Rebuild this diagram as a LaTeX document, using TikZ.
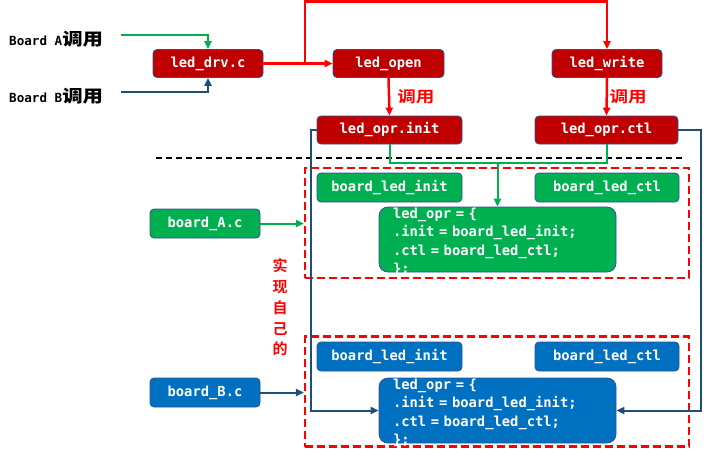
\documentclass[tikz,border=0pt]{standalone}
\usepackage{fontspec}
\setmonofont{DejaVu Sans Mono}
\newfontfamily\cjk{Noto Sans CJK SC Bold}
\newcommand{\widecjk}[1]{\scalebox{1.2}[1]{\cjk #1}}
\usetikzlibrary{arrows.meta}

\definecolor{drvred}{HTML}{C00000}
\definecolor{brdgreen}{HTML}{00B050}
\definecolor{brdblue}{HTML}{0070C0}
\definecolor{edgeblue}{HTML}{2F528F}
\definecolor{wireblue}{HTML}{1F4E79}
\definecolor{wirered}{HTML}{FF0000}

\tikzset{
  fnbox/.style={draw=edgeblue, line width=0.8pt, rounded corners=4pt, text=white,
    inner sep=0pt, minimum height=28pt,
    font=\ttfamily\bfseries\fontsize{13.8}{16}\selectfont},
  redbox/.style={fnbox, fill=drvred},
  greenbox/.style={fnbox, fill=brdgreen},
  bluebox/.style={fnbox, fill=brdblue},
  codebox/.style={draw=edgeblue, line width=0.8pt, rounded corners=9pt,
    minimum width=237pt, minimum height=65pt, inner sep=0pt},
  codetext/.style={text=white, inner sep=0pt, text width=209pt, align=left, yshift=-2.5pt,
    font=\ttfamily\bfseries\fontsize{13.8}{18.5}\selectfont},
  implbox/.style={draw=wirered, dash pattern=on 8pt off 4pt, line width=2.2pt,
    minimum width=384pt, minimum height=110pt, inner sep=0pt},
  sepline/.style={draw=black, dash pattern=on 6pt off 4pt, line width=1.6pt},
  redline/.style={draw=wirered, line width=2.5pt},
  greenline/.style={draw=brdgreen, line width=2pt},
  blueline/.style={draw=wireblue, line width=2pt},
  calltext/.style={inner sep=0pt, font=\ttfamily\bfseries\fontsize{12.6}{16}\selectfont},
  calllbl/.style={inner sep=0pt, text=wirered, font=\fontsize{15.5}{18}\selectfont},
}

\begin{document}
\begin{tikzpicture}[x=1pt, y=-1pt, >={Triangle[length=8pt,width=7pt]}]
\useasboundingbox (0,0) rectangle (706,456);

% the two board parts
\node[implbox] (implA) at (497,223) {};
\node[implbox] (implB) at (497,391.5) {};
\draw[sepline] (156,158) -- (684,158);

% callers
\node[calltext, anchor=west] (callA) at (9,39) {Board A\fontsize{17}{17}\selectfont\widecjk{调用}};
\node[calltext, anchor=west] (callB) at (9,96) {Board B\fontsize{17}{17}\selectfont\widecjk{调用}};
\coordinate (fromA) at (121,35);
\coordinate (fromB) at (121,92);

% driver layer
\node[redbox, minimum width=110pt] (drv) at (208,63.5) {led\_drv.c};
\node[redbox, minimum width=111pt] (open) at (388.5,63.5) {led\_open};
\node[redbox, minimum width=110pt] (write) at (607,63.5) {led\_write};
\node[redbox, minimum width=145pt] (oprinit) at (389.5,130) {led\_opr.init};
\node[redbox, minimum width=143pt] (oprctl) at (606.5,130) {led\_opr.ctl};

% board A
\node[greenbox, minimum width=110pt, minimum height=29pt] (boardA) at (205,223.5) {board\_A.c};
\node[greenbox, minimum width=145pt, minimum height=29pt] (Ainit) at (389.5,187.5) {board\_led\_init};
\node[greenbox, minimum width=144pt, minimum height=29pt] (Actl) at (607,187.5) {board\_led\_ctl};
\node[codebox, fill=brdgreen] (Aopr) at (497.5,239.5) {};
\node[codetext] (Aoprtext) at (Aopr.center) {led\_opr = \{\\.init = board\_led\_init;\\.ctl = board\_led\_ctl;\\\};};

% board B
\node[bluebox, minimum width=110pt, minimum height=29pt] (boardB) at (205,392.5) {board\_B.c};
\node[bluebox, minimum width=145pt, minimum height=29pt] (Binit) at (389.5,356.5) {board\_led\_init};
\node[bluebox, minimum width=144pt, minimum height=29pt] (Bctl) at (607,356.5) {board\_led\_ctl};
\node[codebox, fill=brdblue] (Bopr) at (497.5,410.5) {};
\node[codetext] (Boprtext) at (Bopr.center) {led\_opr = \{\\.init = board\_led\_init;\\.ctl = board\_led\_ctl;\\\};};

\node[inner sep=0pt, align=center, text=wirered, font=\cjk\fontsize{15}{20.75}\selectfont]
  (selfimpl) at (280,307.5) {实\\现\\自\\己\\的};

% calls
\draw[greenline, ->] (fromA) -| (drv.north);
\draw[blueline, ->] (fromB) -| (drv.south);
\coordinate (fork) at (305,63.5);
\draw[redline, ->] (drv.east) -- (open.west);
\draw[redline, ->] (fork) -- ++(0,-62) -| (write.north);
\draw[redline, ->] (open.south) -- node[calllbl, right=7pt] (callopen) {\widecjk{调用}} (oprinit.north);
\draw[redline, ->] (write.south) -- node[calllbl, right=1.5pt] (callwrite) {\widecjk{调用}} (oprctl.north);

% pointers into the boards
\coordinate (gjoin) at (497.5,163);
\draw[greenline] (oprinit.south) -- ++(0,19) -| (oprctl.south);
\draw[greenline, ->] (gjoin) -- (Aopr.north);
\draw[blueline, ->] (oprinit.west) -- ++(-6,0) |- (Bopr.west);
\draw[blueline, ->] (oprctl.east) -- ++(23,0) |- (Bopr.east);
\draw[greenline, ->] (boardA.east) -- (implA.west |- boardA.east);
\draw[blueline, ->] (boardB.east) -- (implB.west |- boardB.east);
\end{tikzpicture}
\end{document}
